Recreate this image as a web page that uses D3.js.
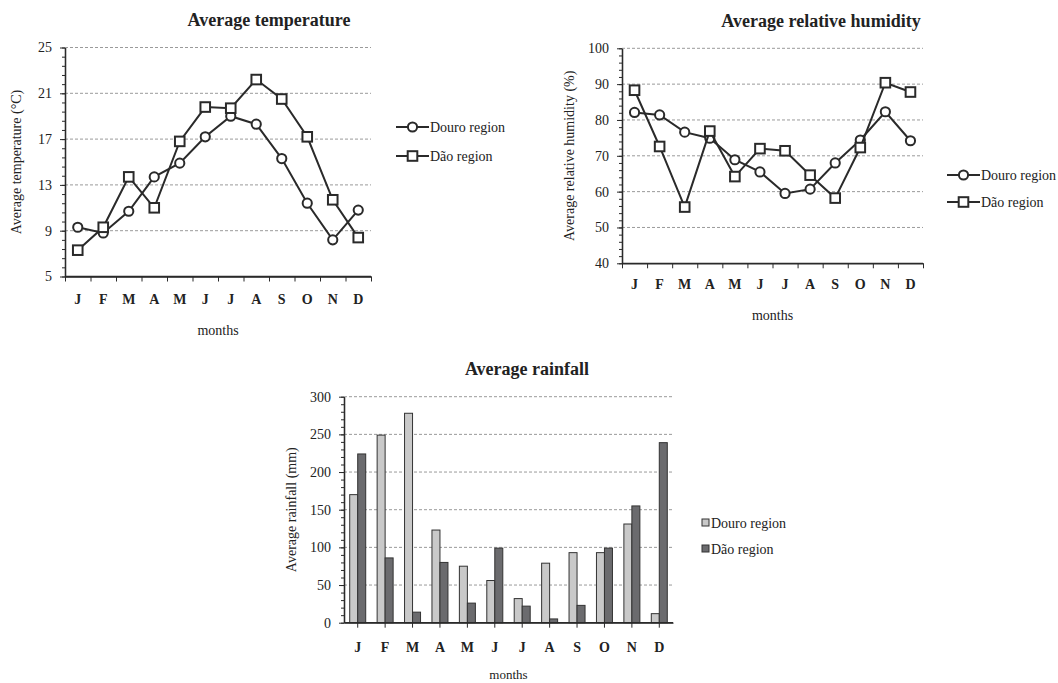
<!DOCTYPE html>
<html>
<head>
<meta charset="utf-8">
<script src="https://cdn.jsdelivr.net/npm/d3@7"></script>
<style>
  body { margin: 0; background: #fff; }
  svg text { font-family: "Liberation Serif", "Times New Roman", serif; fill: #222; }
</style>
</head>
<body>
<svg id="chart" width="1058" height="683"></svg>
<script>
// months and series
var months = ["J", "F", "M", "A", "M", "J", "J", "A", "S", "O", "N", "D"];
var regions = ["Douro region", "Dão region"];

var tempDouro = [9.3, 8.8, 10.7, 13.7, 14.9, 17.2, 19.0, 18.3, 15.3, 11.4, 8.2, 10.8];
var tempDao   = [7.3, 9.3, 13.7, 11.0, 16.8, 19.8, 19.7, 22.2, 20.5, 17.2, 11.7, 8.4];
var tempTicks = [5, 9, 13, 17, 21, 25];

var humDouro = [82.1, 81.4, 76.6, 74.9, 68.9, 65.5, 59.5, 60.7, 68.0, 74.4, 82.3, 74.2];
var humDao   = [88.3, 72.6, 55.7, 76.9, 64.2, 72.0, 71.4, 64.6, 58.2, 72.3, 90.4, 87.8];
var humTicks = [40, 50, 60, 70, 80, 90, 100];

var rainDouro = [170, 249, 278, 123, 75, 56, 32, 79, 93, 93, 131, 12];
var rainDao   = [224, 86, 14, 80, 26, 99, 22, 5, 23, 99, 155, 239];
var rainTicks = [0, 50, 100, 150, 200, 250, 300];

var svg = d3.select("#chart");
var ink = "#2a2a2a";

function frame(g, o, y) {
    // dashed gridlines
    g.append("g").selectAll("line")
        .data(o.ticks.slice(1))
        .enter().append("line")
        .attr("x1", o.left).attr("x2", o.right)
        .attr("y1", d => y(d)).attr("y2", d => y(d))
        .style("stroke", "#9a9a9a")
        .style("stroke-dasharray", "3,2")
        .style("stroke-width", 1);

    // minor ticks, five per major step
    var step = (o.ticks[1] - o.ticks[0]) / 5;
    var minor = d3.range(o.ticks[0], o.ticks[o.ticks.length - 1] + step / 2, step);
    g.append("g")
        .attr("transform", "translate(" + o.left + ",0)")
        .call(d3.axisLeft(y).tickValues(minor).tickSize(3).tickFormat("").tickSizeOuter(0));

    var ya = g.append("g")
        .attr("class", "yaxis")
        .attr("transform", "translate(" + o.left + ",0)")
        .call(d3.axisLeft(y).tickValues(o.ticks).tickSize(5).tickPadding(8).tickSizeOuter(0));
    ya.selectAll("text").style("font-size", "14px");

    // title, axis titles
    g.append("text")
        .attr("x", o.titleX).attr("y", o.titleY)
        .attr("text-anchor", "middle")
        .style("font-size", "18px").style("font-weight", "bold")
        .text(o.title);
    g.append("text")
        .attr("x", (o.left + o.right) / 2).attr("y", o.monthsY)
        .attr("text-anchor", "middle")
        .style("font-size", "14px")
        .text("months");
    g.append("text")
        .attr("transform", "translate(" + o.ylabelX + "," + (o.top + o.bottom) / 2 + ") rotate(-90)")
        .attr("text-anchor", "middle")
        .style("font-size", "14px")
        .text(o.ylabel);
}

function monthAxis(g, o, x, boundaryTicks) {
    var xa = g.append("g")
        .attr("transform", "translate(0," + o.bottom + ")")
        .call(d3.axisBottom(x).tickSize(0).tickPadding(o.labelPad).tickFormat(i => months[i]));
    xa.select(".domain").remove();
    xa.selectAll("text").style("font-size", "14px").style("font-weight", "bold");

    var tb;
    if (boundaryTicks) {
        tb = d3.scaleLinear().domain([0, 12]).range([o.left, o.right]);
        g.append("g")
            .attr("transform", "translate(0," + o.bottom + ")")
            .call(d3.axisBottom(tb).ticks(12).tickSize(5).tickFormat("").tickSizeOuter(0));
    } else {
        g.append("g")
            .attr("transform", "translate(0," + o.bottom + ")")
            .call(d3.axisBottom(x).tickSize(5).tickFormat("").tickSizeOuter(0));
    }
    g.append("line")
        .attr("x1", o.left).attr("x2", o.right)
        .attr("y1", o.bottom).attr("y2", o.bottom)
        .style("stroke", ink).style("stroke-width", 1.3);
}

function marker(sel, kind) {
    if (kind === 0) {
        sel.append("circle").attr("r", 4.6);
    } else {
        sel.append("rect").attr("x", -4.8).attr("y", -4.8).attr("width", 9.6).attr("height", 9.6);
    }
    sel.selectAll("circle, rect")
        .style("fill", "#fff").style("stroke", ink).style("stroke-width", 2);
}

function lineChart(o) {
    var g = svg.append("g");
    var x = d3.scaleBand().domain(d3.range(12)).range([o.left, o.right]);
    var y = d3.scaleLinear().domain([o.ticks[0], o.ticks[o.ticks.length - 1]]).range([o.bottom, o.top]);

    frame(g, o, y);
    monthAxis(g, o, x, true);

    var line = d3.line()
        .x((d, i) => x(i) + x.bandwidth() / 2)
        .y(d => y(d));

    o.series.forEach(function(s, k) {
        g.append("path")
            .datum(s)
            .attr("d", line)
            .style("fill", "none").style("stroke", ink).style("stroke-width", 2);
        g.append("g").selectAll("g")
            .data(s)
            .enter().append("g")
            .attr("transform", (d, i) => "translate(" + (x(i) + x.bandwidth() / 2) + "," + y(d) + ")")
            .call(marker, k);
    });

    // legend
    regions.forEach(function(name, k) {
        var ly = o.legendY[k];
        g.append("line")
            .attr("x1", o.legendX).attr("x2", o.legendX + 33)
            .attr("y1", ly).attr("y2", ly)
            .style("stroke", ink).style("stroke-width", 2);
        g.append("g")
            .attr("transform", "translate(" + (o.legendX + 16.5) + "," + ly + ")")
            .call(marker, k);
        g.append("text")
            .attr("x", o.legendX + 34).attr("y", ly + 5)
            .style("font-size", "14px")
            .text(name);
    });
}

lineChart({
    left: 65, right: 371, top: 47.5, bottom: 276.5,
    ticks: tempTicks, series: [tempDouro, tempDao],
    title: "Average temperature", titleX: 269, titleY: 26,
    ylabel: "Average temperature (°C)", ylabelX: 21,
    labelPad: 18, monthsY: 335,
    legendX: 396, legendY: [127, 156]
});

lineChart({
    left: 622, right: 923, top: 48.3, bottom: 263.3,
    ticks: humTicks, series: [humDouro, humDao],
    title: "Average relative humidity", titleX: 821, titleY: 27,
    ylabel: "Average relative humidity (%)", ylabelX: 574,
    labelPad: 16, monthsY: 320,
    legendX: 947, legendY: [175, 202]
});

// rainfall bars
(function() {
    var o = {
        left: 344, right: 673, top: 396.7, bottom: 622.7,
        ticks: rainTicks,
        title: "Average rainfall", titleX: 527, titleY: 375,
        ylabel: "Average rainfall (mm)", ylabelX: 296,
        labelPad: 19, monthsY: 679
    };
    var g = svg.append("g");
    var x = d3.scaleBand().domain(d3.range(12)).range([o.left, o.right]);
    var xs = d3.scaleBand().domain([0, 1])
        .range([x.bandwidth() / 2 - 8, x.bandwidth() / 2 + 8]);
    var y = d3.scaleLinear().domain([0, 300]).range([o.bottom, o.top]);
    var fills = ["#c9c9c9", "#6b6b6e"];

    frame(g, o, y);

    [rainDouro, rainDao].forEach(function(s, k) {
        g.append("g").selectAll("rect")
            .data(s)
            .enter().append("rect")
            .attr("x", (d, i) => x(i) + xs(k))
            .attr("y", d => y(d))
            .attr("width", xs.bandwidth())
            .attr("height", d => y(0) - y(d))
            .style("fill", fills[k])
            .style("stroke", "#333")
            .style("stroke-width", 1);
    });

    monthAxis(g, o, x, false);

    var ly = [523, 549];
    regions.forEach(function(name, k) {
        g.append("rect")
            .attr("x", 702).attr("y", ly[k] - 4)
            .attr("width", 7).attr("height", 7)
            .style("fill", fills[k]).style("stroke", "#333").style("stroke-width", 1);
        g.append("text")
            .attr("x", 711).attr("y", ly[k] + 5)
            .style("font-size", "14px")
            .text(name);
    });
})();

svg.selectAll(".domain").style("stroke", ink).style("stroke-width", 1.3);
svg.selectAll(".tick line").style("stroke", ink);
// the rainfall "months" label sits near the bottom edge; keep it 13px so it fits
svg.selectAll("text").filter(function() { return this.textContent === "months" && +this.getAttribute("y") > 600; })
    .style("font-size", "13px");
</script>
</body>
</html>
